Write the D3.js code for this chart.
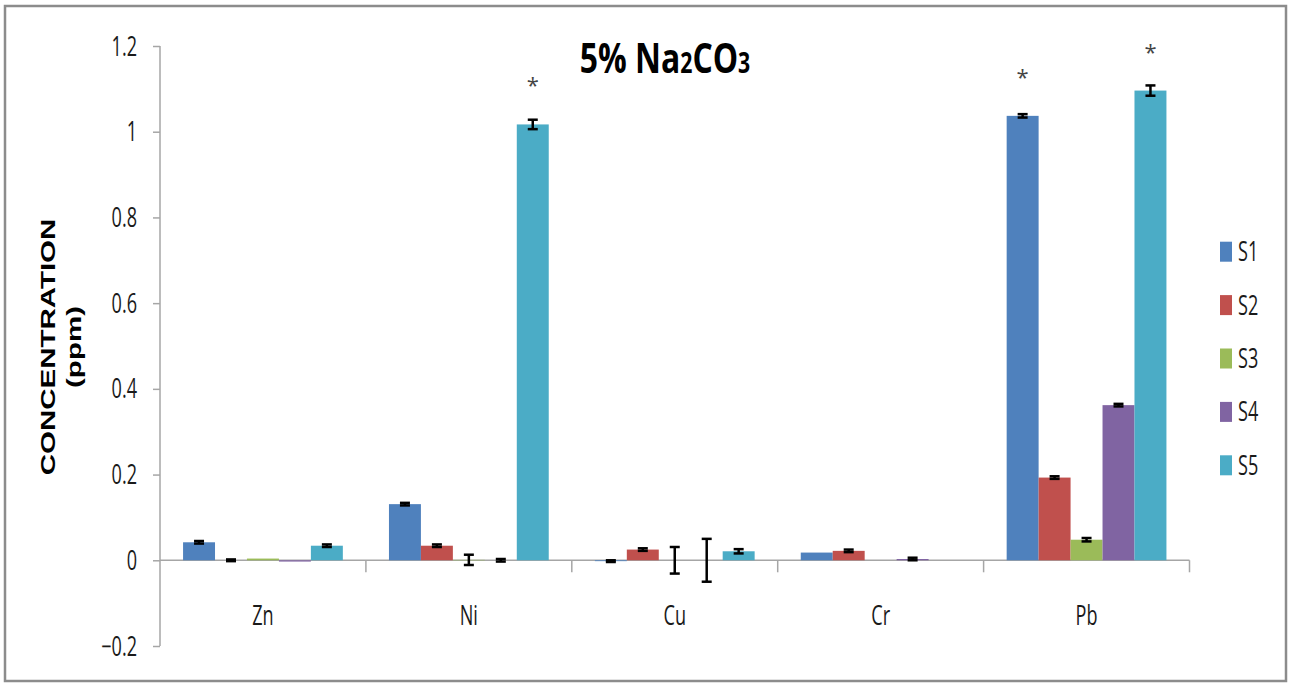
<!DOCTYPE html>
<meta charset="utf-8">
<style>
body { margin: 0; background: #fff; }
text { font-family: "Open Sans", sans-serif; fill: #1a1a1a; }
.axis path, .axis line { stroke: #a6a6a6; stroke-width: 1.5px; }
.err { stroke: #000; stroke-width: 2.5px; }
</style>
<body>
<script src="https://cdn.jsdelivr.net/npm/d3@7/dist/d3.min.js"></script>
<script>

var width = 1290,
    height = 683;

// data
var metals = ["Zn", "Ni", "Cu", "Cr", "Pb"];
var series = ["S1", "S2", "S3", "S4", "S5"];
var colors = ["#4f81bd", "#c0504d", "#9bbb59", "#8064a2", "#4bacc6"];
var values = [
  [0.042, 0.000, 0.004, -0.003, 0.034],   // Zn
  [0.131, 0.034, 0.001, 0.000, 1.017],    // Ni
  [-0.002, 0.025, 0.000, 0.000, 0.021],   // Cu
  [0.018, 0.022, 0.000, 0.003, 0.000],    // Cr
  [1.037, 0.193, 0.048, 0.362, 1.096]     // Pb
];
var errors = [
  [0.003, 0.002, 0, 0, 0.003],
  [0.003, 0.003, 0.012, 0.003, 0.011],
  [0.002, 0.003, 0.031, 0.050, 0.005],
  [0, 0.003, 0, 0.003, 0],
  [0.004, 0.003, 0.004, 0.003, 0.012]
];
// bars marked with an asterisk
var starred = [["Ni", "S5"], ["Pb", "S1"], ["Pb", "S5"]];
var yTicks = [-0.2, 0, 0.2, 0.4, 0.6, 0.8, 1, 1.2];

var sx = 0.67; // text in the picture is squeezed sideways

var svg = d3.select("body").append("svg")
    .attr("width", width)
    .attr("height", height);

svg.append("rect")
    .attr("x", 5).attr("y", 6)
    .attr("width", 1281).attr("height", 675)
    .attr("fill", "none")
    .attr("stroke", "#8c8c8c")
    .attr("stroke-width", 2.5);

var x0 = d3.scaleBand()
    .domain(metals)
    .range([160, 1189.5]);

var gap = x0.bandwidth() * 0.112;
var x1 = d3.scaleBand()
    .domain(series)
    .range([gap, x0.bandwidth() - gap]);

var y = d3.scaleLinear()
    .domain([-0.2, 1.2])
    .range([646, 46]);

function squeezed(g, x, yy, str, size, anchor) {
  return g.append("text")
      .attr("transform", "translate(" + x + "," + yy + ") scale(" + sx + ",1)")
      .attr("text-anchor", anchor || "middle")
      .style("font-size", size + "px")
      .text(str);
}

// y axis
var yAxis = svg.append("g")
    .attr("class", "axis")
    .attr("transform", "translate(160,0)")
    .call(d3.axisLeft(y).tickValues(yTicks).tickSize(7).tickSizeOuter(0).tickFormat(""));
yAxis.select(".domain").attr("d", "M0," + y(1.2) + "V" + y(-0.2));

yTicks.forEach(function(t) {
  squeezed(svg, 137, y(t) + 9.5, d3.format("")(t), 27, "end");
});

// x axis through zero
var xAxis = svg.append("g").attr("class", "axis");
xAxis.append("line")
    .attr("x1", 160).attr("x2", 1189.5)
    .attr("y1", y(0)).attr("y2", y(0));
metals.concat([null]).forEach(function(m, i) {
  var xx = m ? x0(m) : x0.range()[1];
  if (i === 0) return;
  xAxis.append("line")
      .attr("x1", xx).attr("x2", xx)
      .attr("y1", y(0)).attr("y2", y(0) + 12);
});

metals.forEach(function(m) {
  squeezed(svg, x0(m) + x0.bandwidth() / 2, 625, m, 27);
});

// bars
var groups = svg.append("g")
  .selectAll("g")
  .data(metals)
  .enter().append("g")
    .attr("transform", function(d) { return "translate(" + x0(d) + ",0)"; });

groups.selectAll("rect")
  .data(function(d, i) {
    return series.map(function(s, j) { return {metal: d, s: s, v: values[i][j], e: errors[i][j], c: colors[j]}; });
  })
  .enter().append("rect")
    .attr("x", function(d) { return x1(d.s); })
    .attr("width", x1.bandwidth())
    .attr("y", function(d) { return y(Math.max(0, d.v)); })
    .attr("height", function(d) { return Math.abs(y(d.v) - y(0)); })
    .attr("fill", function(d) { return d.c; });

// error bars
groups.selectAll("g.errbar")
  .data(function(d, i) {
    return series.map(function(s, j) { return {s: s, v: values[i][j], e: errors[i][j]}; })
      .filter(function(d) { return d.e > 0; });
  })
  .enter().append("g")
    .attr("class", "errbar")
    .each(function(d) {
      var g = d3.select(this),
          cx = x1(d.s) + x1.bandwidth() / 2,
          top = y(d.v + d.e),
          bot = y(d.v - d.e);
      g.append("line").attr("class", "err").attr("x1", cx).attr("x2", cx).attr("y1", top).attr("y2", bot);
      g.append("line").attr("class", "err").attr("x1", cx - 5).attr("x2", cx + 5).attr("y1", top).attr("y2", top);
      g.append("line").attr("class", "err").attr("x1", cx - 5).attr("x2", cx + 5).attr("y1", bot).attr("y2", bot);
    });

// asterisks
starred.forEach(function(p) {
  var i = metals.indexOf(p[0]), j = series.indexOf(p[1]);
  svg.append("text")
      .attr("x", x0(p[0]) + x1(p[1]) + x1.bandwidth() / 2)
      .attr("y", y(values[i][j]) - 43 + 12)
      .attr("text-anchor", "middle")
      .style("font-size", "22px")
      .style("fill", "#444")
      .text("*");
});

// legend
var legend = svg.append("g")
  .selectAll("g")
  .data(series)
  .enter().append("g")
    .attr("transform", function(d, i) { return "translate(1220," + (251.7 + i * 53.4) + ")"; });

legend.append("rect")
    .attr("x", 0).attr("y", -10)
    .attr("width", 12).attr("height", 20)
    .attr("fill", function(d, i) { return colors[i]; });

legend.each(function(d) {
  squeezed(d3.select(this), 18, 9.5, d, 27, "start");
});

// title
var title = svg.append("text")
    .attr("transform", "translate(665,73) scale(0.76,1)")
    .attr("text-anchor", "middle")
    .style("font-size", "42px")
    .style("font-weight", "bold")
    .style("fill", "#000");
title.append("tspan").text("5% Na");
title.append("tspan").style("font-size", "28px").text("2");
title.append("tspan").text("CO");
title.append("tspan").style("font-size", "28px").text("3");

// y axis title
[["CONCENTRATION", 55], ["(ppm)", 81]].forEach(function(t) {
  svg.append("text")
      .attr("transform", "translate(" + t[1] + ",347) scale(0.71,1) rotate(-90)")
      .attr("text-anchor", "middle")
      .style("font-family", "'Liberation Sans', Arial, sans-serif")
      .style("font-weight", "bold")
      .style("font-size", "29.5px")
      .style("fill", "#000")
      .text(t[0]);
});

</script>
</body>
